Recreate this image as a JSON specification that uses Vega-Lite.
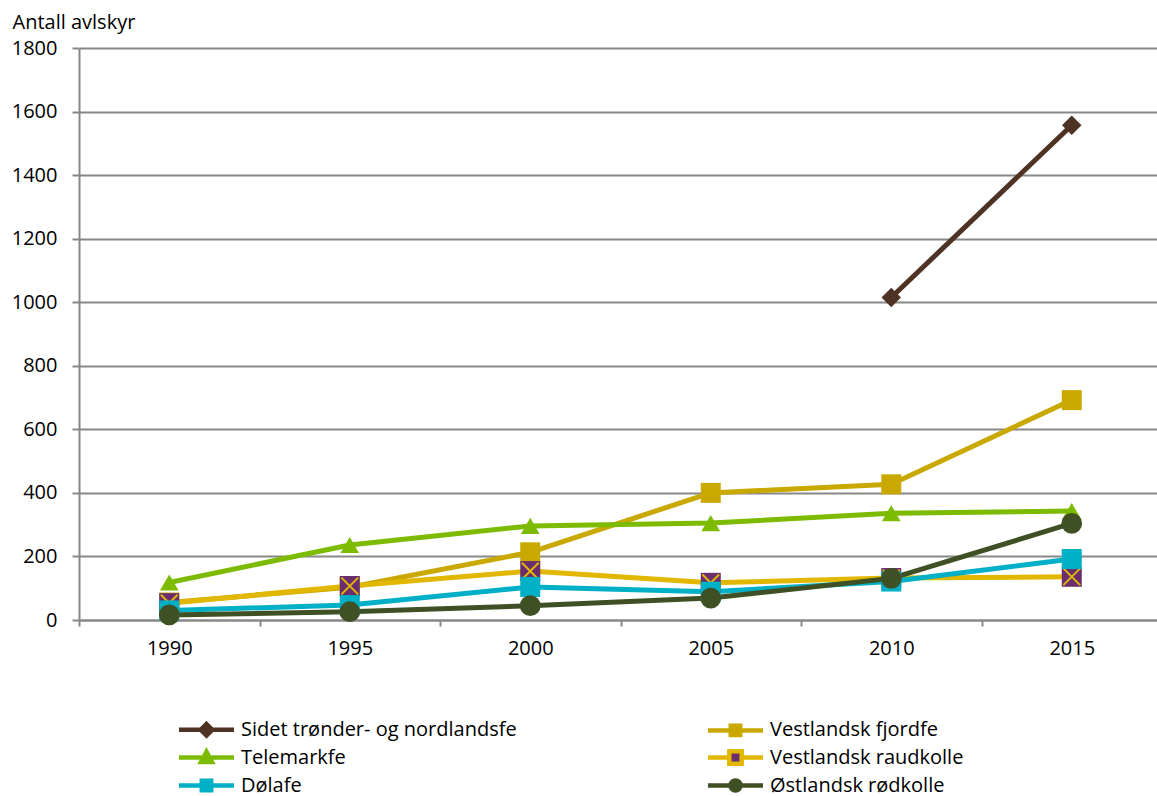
{
  "$schema": "https://vega.github.io/schema/vega-lite/v6.json",
  "autosize": {"type": "none"},
  "padding": {"left": 79, "top": 48, "right": 0, "bottom": 176},
  "width": 1078,
  "height": 572,
  "background": "white",
  "config": {
    "view": {"stroke": null},
    "font": "Open Sans",
    "axis": {"labelFont": "Open Sans", "titleFont": "Open Sans", "labelColor": "#000000", "titleColor": "#000000"},
    "legend": {"labelFont": "Open Sans"}
  },
  "data": {
    "values": [
      {"series": "Sidet trønder- og nordlandsfe", "year": "2010", "value": 1015},
      {"series": "Sidet trønder- og nordlandsfe", "year": "2015", "value": 1557},
      {"series": "Vestlandsk fjordfe", "year": "1990", "value": 55},
      {"series": "Vestlandsk fjordfe", "year": "1995", "value": 103},
      {"series": "Vestlandsk fjordfe", "year": "2000", "value": 213},
      {"series": "Vestlandsk fjordfe", "year": "2005", "value": 400},
      {"series": "Vestlandsk fjordfe", "year": "2010", "value": 427},
      {"series": "Vestlandsk fjordfe", "year": "2015", "value": 692},
      {"series": "Telemarkfe", "year": "1990", "value": 118},
      {"series": "Telemarkfe", "year": "1995", "value": 236},
      {"series": "Telemarkfe", "year": "2000", "value": 296},
      {"series": "Telemarkfe", "year": "2005", "value": 305},
      {"series": "Telemarkfe", "year": "2010", "value": 336},
      {"series": "Telemarkfe", "year": "2015", "value": 343},
      {"series": "Vestlandsk raudkolle", "year": "1990", "value": 53},
      {"series": "Vestlandsk raudkolle", "year": "1995", "value": 107},
      {"series": "Vestlandsk raudkolle", "year": "2000", "value": 154},
      {"series": "Vestlandsk raudkolle", "year": "2005", "value": 117},
      {"series": "Vestlandsk raudkolle", "year": "2010", "value": 132},
      {"series": "Vestlandsk raudkolle", "year": "2015", "value": 136},
      {"series": "Dølafe", "year": "1990", "value": 30},
      {"series": "Dølafe", "year": "1995", "value": 47},
      {"series": "Dølafe", "year": "2000", "value": 104},
      {"series": "Dølafe", "year": "2005", "value": 89},
      {"series": "Dølafe", "year": "2010", "value": 121},
      {"series": "Dølafe", "year": "2015", "value": 192},
      {"series": "Østlandsk rødkolle", "year": "1990", "value": 16},
      {"series": "Østlandsk rødkolle", "year": "1995", "value": 26},
      {"series": "Østlandsk rødkolle", "year": "2000", "value": 45},
      {"series": "Østlandsk rødkolle", "year": "2005", "value": 69},
      {"series": "Østlandsk rødkolle", "year": "2010", "value": 131},
      {"series": "Østlandsk rødkolle", "year": "2015", "value": 304}
    ]
  },
  "encoding": {
    "x": {
      "field": "year", "type": "ordinal", "bandPosition": 0.5,
      "scale": {"type": "band", "paddingInner": 0, "paddingOuter": 0, "range": [0, 1083]},
      "axis": {
        "title": null, "labelAngle": 0, "labelFontSize": 20, "labelPadding": 12,
        "tickBand": "extent", "tickSize": 6, "tickColor": "#888888", "tickWidth": 2,
        "domain": true, "domainColor": "#888888", "domainWidth": 2, "grid": false
      }
    },
    "y": {
      "field": "value", "type": "quantitative",
      "scale": {"domain": [0, 1800], "nice": false, "zero": true},
      "axis": {
        "title": "Antall avlskyr", "titleAngle": 0, "titleAlign": "left", "titleBaseline": "alphabetic",
        "titleX": -67, "titleY": -20, "titleFontSize": 20, "titleFontWeight": "normal",
        "values": [0, 200, 400, 600, 800, 1000, 1200, 1400, 1600, 1800], "format": "d",
        "labelFontSize": 20, "labelPadding": 15, "tickSize": 7, "tickColor": "#888888", "tickWidth": 2,
        "domainColor": "#888888", "domainWidth": 2,
        "grid": true, "gridColor": "#888888", "gridWidth": 2
      }
    }
  },
  "layer": [
    {
      "mark": {"type": "line", "strokeWidth": 5, "strokeCap": "butt", "strokeJoin": "round"},
      "encoding": {
        "color": {
          "field": "series", "type": "nominal",
          "scale": {
            "domain": ["Sidet trønder- og nordlandsfe", "Telemarkfe", "Dølafe", "Vestlandsk fjordfe", "Vestlandsk raudkolle", "Østlandsk rødkolle"],
            "range": ["#4E3324", "#7DBB00", "#00B0C6", "#C9A800", "#E2B700", "#3E5024"]
          },
          "legend": {
            "title": null, "orient": "none", "legendX": 115, "legendY": 669,
            "columns": 2, "columnPadding": 182, "rowPadding": -3.5,
            "labelFontSize": 20, "labelColor": "#000000", "labelOffset": 22, "labelLimit": 0,
            "symbolSize": 400, "symbolStrokeWidth": 4.5,
            "encode": {
              "symbols": {
                "update": {
                  "shape": {"signal": "datum.value === 'Sidet trønder- og nordlandsfe' ? 'M-2.75,0H-0.55M0.55,0H2.75M0,-0.58L0.58,0L0,0.58L-0.58,0Z' : datum.value === 'Telemarkfe' ? 'M-2.75,0H-0.5M0.5,0H2.75M0,-0.58L0.55,0.45L-0.55,0.45Z' : datum.value === 'Østlandsk rødkolle' ? 'M-2.75,0H-0.5M0.5,0H2.75M-0.5,0A0.5,0.5 0 1,0 0.5,0A0.5,0.5 0 1,0 -0.5,0Z' : datum.value === 'Vestlandsk raudkolle' ? 'M-2.75,0H-0.62M0.62,0H2.75M-0.62,-0.62H0.62V0.62H-0.62Z' : 'M-2.75,0H-0.47M0.47,0H2.75M-0.47,-0.47H0.47V0.47H-0.47Z'"},
                  "fill": {"signal": "datum.value === 'Vestlandsk raudkolle' ? '#6A2E6E' : scale('color', datum.value)"},
                  "stroke": {"signal": "scale('color', datum.value)"},
                  "strokeWidth": {"value": 4.5},
                  "opacity": {"value": 1}
                }
              }
            }
          }
        }
      }
    },
    {
      "transform": [{"filter": "datum.series === 'Sidet trønder- og nordlandsfe'"}],
      "mark": {"type": "point", "filled": true, "opacity": 1, "size": 380, "shape": "diamond", "fill": "#4E3324"}
    },
    {
      "transform": [{"filter": "datum.series === 'Vestlandsk fjordfe'"}],
      "mark": {"type": "point", "filled": true, "opacity": 1, "size": 400, "shape": "square", "fill": "#C9A800"}
    },
    {
      "transform": [{"filter": "datum.series === 'Telemarkfe'"}],
      "mark": {"type": "point", "filled": true, "opacity": 1, "size": 350, "shape": "triangle-up", "fill": "#7DBB00"}
    },
    {
      "transform": [{"filter": "datum.series === 'Vestlandsk raudkolle'"}],
      "mark": {"type": "point", "filled": true, "opacity": 1, "size": 400, "shape": "square", "fill": "#6A2E6E"}
    },
    {
      "transform": [{"filter": "datum.series === 'Vestlandsk raudkolle'"}],
      "mark": {"type": "point", "filled": false, "shape": "M-1,-1L1,1M1,-1L-1,1", "size": 280, "stroke": "#E2B700", "strokeWidth": 2, "opacity": 1}
    },
    {
      "transform": [{"filter": "datum.series === 'Dølafe'"}],
      "mark": {"type": "point", "filled": true, "opacity": 1, "size": 400, "shape": "square", "fill": "#00B0C6"}
    },
    {
      "transform": [{"filter": "datum.series === 'Østlandsk rødkolle'"}],
      "mark": {"type": "point", "filled": true, "opacity": 1, "size": 430, "shape": "circle", "fill": "#3E5024"}
    }
  ]
}
